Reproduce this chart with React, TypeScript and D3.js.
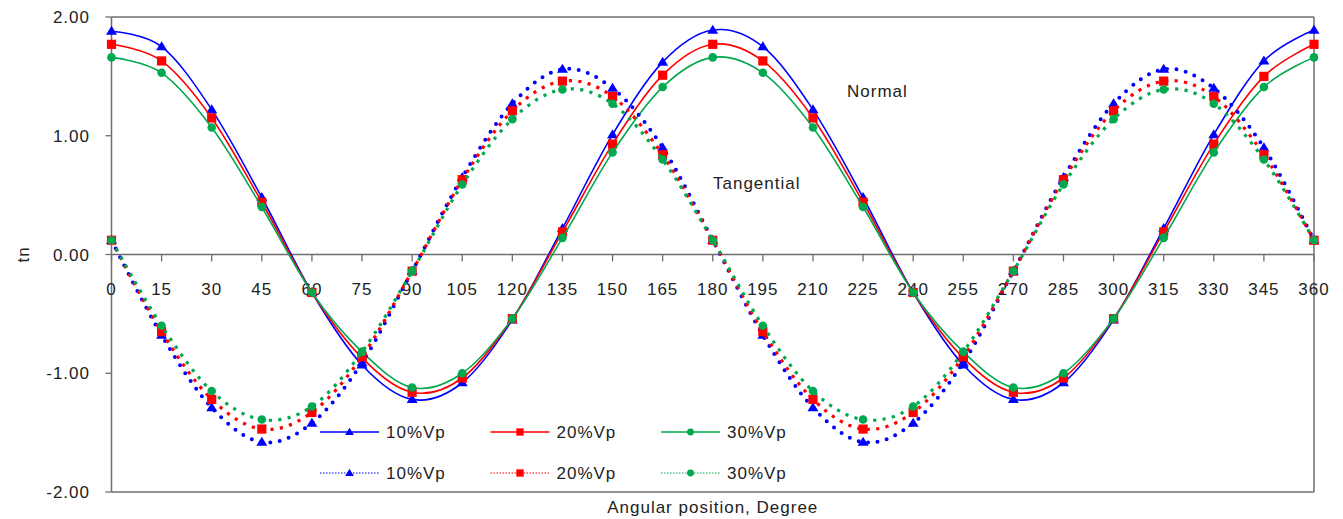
import React from 'react';
import * as d3 from 'd3';

// angular positions (degrees), one marker per 15 deg
const ANGLES = [0, 15, 30, 45, 60, 75, 90, 105, 120, 135, 150, 165, 180,
  195, 210, 225, 240, 255, 270, 285, 300, 315, 330, 345, 360];
const Y_TICKS = [-2, -1, 0, 1, 2];

const SERIES_NAMES = ['10%Vp', '20%Vp', '30%Vp'];

// normal component (solid lines)
const NORMAL_10 = [1.88, 1.75, 1.22, 0.48, -0.32, -0.93, -1.22, -1.08, -0.55, 0.22, 1.01, 1.62, 1.89,
  1.75, 1.22, 0.48, -0.32, -0.93, -1.22, -1.08, -0.55, 0.22, 1.01, 1.63, 1.89];
const NORMAL_20 = [1.77, 1.63, 1.15, 0.44, -0.32, -0.87, -1.16, -1.04, -0.54, 0.19, 0.93, 1.51, 1.77,
  1.63, 1.15, 0.44, -0.32, -0.87, -1.16, -1.04, -0.54, 0.19, 0.93, 1.50, 1.77];
const NORMAL_30 = [1.66, 1.53, 1.07, 0.40, -0.32, -0.82, -1.12, -1.00, -0.54, 0.14, 0.86, 1.41, 1.66,
  1.53, 1.07, 0.40, -0.32, -0.82, -1.12, -1.00, -0.54, 0.14, 0.86, 1.41, 1.66];

// tangential component (dotted lines)
const TANG_10 = [0.12, -0.68, -1.29, -1.58, -1.42, -0.91, -0.14, 0.65, 1.27, 1.56, 1.40, 0.90, 0.12,
  -0.68, -1.29, -1.58, -1.42, -0.91, -0.14, 0.65, 1.27, 1.56, 1.40, 0.90, 0.12];
const TANG_20 = [0.12, -0.65, -1.22, -1.47, -1.33, -0.86, -0.14, 0.63, 1.21, 1.46, 1.33, 0.84, 0.12,
  -0.65, -1.22, -1.47, -1.33, -0.86, -0.14, 0.63, 1.21, 1.46, 1.33, 0.84, 0.12];
const TANG_30 = [0.12, -0.60, -1.15, -1.39, -1.28, -0.82, -0.14, 0.59, 1.14, 1.39, 1.27, 0.80, 0.12,
  -0.60, -1.15, -1.39, -1.28, -0.82, -0.14, 0.59, 1.14, 1.39, 1.27, 0.80, 0.12];

const COLORS = ['#0000ff', '#ff0000', '#00a84f'];
const SHAPES = ['triangle', 'square', 'circle'];

const FONT = '"Liberation Sans", Arial, sans-serif';
const TEXT_COLOR = '#222';

const W = 1343, H = 519;
const x = d3.scaleLinear().domain([0, 360]).range([111.5, 1314]);
const y = d3.scaleLinear().domain([-2, 2]).range([492, 17]);

function Marker({ shape, cx, cy, color, s = 1 }: any) {
  if (shape === 'triangle') {
    const w = 5.5 * s, h = 9 * s;
    return <path d={`M${cx},${cy - h * 0.6}L${cx + w},${cy + h * 0.4}L${cx - w},${cy + h * 0.4}Z`} fill={color} />;
  }
  if (shape === 'square') {
    const r = 4.6 * s;
    return <rect x={cx - r} y={cy - r} width={r * 2} height={r * 2} fill={color} />;
  }
  return <circle cx={cx} cy={cy} r={4.3 * s} fill={color} />;
}

export default function App() {
  const line = d3.line<number>()
    .x((d, i) => x(ANGLES[i]))
    .y(d => y(d))
    .curve(d3.curveCardinal.tension(0));

  const normal = [NORMAL_10, NORMAL_20, NORMAL_30];
  const tang = [TANG_10, TANG_20, TANG_30];

  const dotStyle = (i: number) => i === 0
    ? { strokeWidth: 4, strokeDasharray: '0 9.5', strokeLinecap: 'round' as const }
    : { strokeWidth: 3.2, strokeDasharray: '3.2 6.3', strokeLinecap: 'butt' as const };

  const [x0, x1] = x.range();
  const [yb, yt] = y.range();

  return (
    <svg width={W} height={H} style={{ position: 'absolute', left: 0, top: 0, background: '#fff' }}
      fontFamily={FONT}>
      {/* frame */}
      <line x1={x0} x2={x1} y1={yt} y2={yt} stroke="#6e6e6e" strokeWidth={1.5} />
      <line x1={x1} x2={x1} y1={yt} y2={yb} stroke="#6e6e6e" strokeWidth={1.5} />
      <line x1={x0} x2={x1} y1={yb} y2={yb} stroke="#6e6e6e" strokeWidth={1.5} />
      <line x1={x0} x2={x0} y1={yt} y2={yb} stroke="#6e6e6e" strokeWidth={1.5} />

      {/* y axis */}
      {Y_TICKS.map(t => (
        <g key={t}>
          <line x1={x0 - 6} x2={x0} y1={y(t)} y2={y(t)} stroke="#6e6e6e" strokeWidth={1.3} />
          <text x={90} y={y(t) + 6} textAnchor="end" fontSize={17} letterSpacing={1} fill={TEXT_COLOR}>
            {t.toFixed(2)}
          </text>
        </g>
      ))}
      <text transform={`translate(29,${y(0)}) rotate(-90)`} textAnchor="middle" fontSize={17}
        letterSpacing={1} fill={TEXT_COLOR}>tn</text>

      {/* x axis at zero */}
      <line x1={x0} x2={x1} y1={y(0)} y2={y(0)} stroke="#6e6e6e" strokeWidth={1.3} />
      {ANGLES.map(a => (
        <g key={a}>
          <line x1={x(a)} x2={x(a)} y1={y(0)} y2={y(0) + 7} stroke="#6e6e6e" strokeWidth={1.3} />
          <text x={x(a)} y={y(0) + 40} textAnchor="middle" fontSize={17} letterSpacing={1} fill={TEXT_COLOR}>
            {a}
          </text>
        </g>
      ))}
      <text x={(x0 + x1) / 2} y={513} textAnchor="middle" fontSize={17} letterSpacing={1} fill={TEXT_COLOR}>
        Angular position, Degree
      </text>

      {/* normal (solid) */}
      {normal.map((vals, i) => (
        <g key={'n' + i}>
          <path d={line(vals) || ''} fill="none" stroke={COLORS[i]} strokeWidth={1.6} />
          {vals.map((v, j) => <Marker key={j} shape={SHAPES[i]} cx={x(ANGLES[j])} cy={y(v)} color={COLORS[i]} />)}
        </g>
      ))}

      {/* tangential (dotted) */}
      {tang.map((vals, i) => (
        <g key={'t' + i}>
          <path d={line(vals) || ''} fill="none" stroke={COLORS[i]} {...dotStyle(i)} />
          {vals.map((v, j) => <Marker key={j} shape={SHAPES[i]} cx={x(ANGLES[j])} cy={y(v)} color={COLORS[i]} />)}
        </g>
      ))}

      {/* annotations */}
      <text x={847} y={97} fontSize={17} letterSpacing={1} fill={TEXT_COLOR}>Normal</text>
      <text x={713} y={189} fontSize={17} letterSpacing={1} fill={TEXT_COLOR}>Tangential</text>

      {/* legend */}
      {[0, 1].map(row => {
        const ly = row === 0 ? 432 : 473;
        return SERIES_NAMES.map((name, i) => {
          const lx = 320 + i * 170.5;
          return (
            <g key={row + name}>
              {row === 0
                ? <line x1={lx} x2={lx + 59} y1={ly} y2={ly} stroke={COLORS[i]} strokeWidth={1.6} />
                : <line x1={lx} x2={lx + 59} y1={ly} y2={ly} stroke={COLORS[i]} strokeWidth={1}
                  strokeDasharray="1.5 1.5" />}
              <Marker shape={SHAPES[i]} cx={lx + 29.5} cy={ly} color={COLORS[i]} s={0.8} />
              <text x={lx + 66} y={ly + 6} fontSize={17} letterSpacing={1} fill={TEXT_COLOR}>{name}</text>
            </g>
          );
        });
      })}
    </svg>
  );
}
